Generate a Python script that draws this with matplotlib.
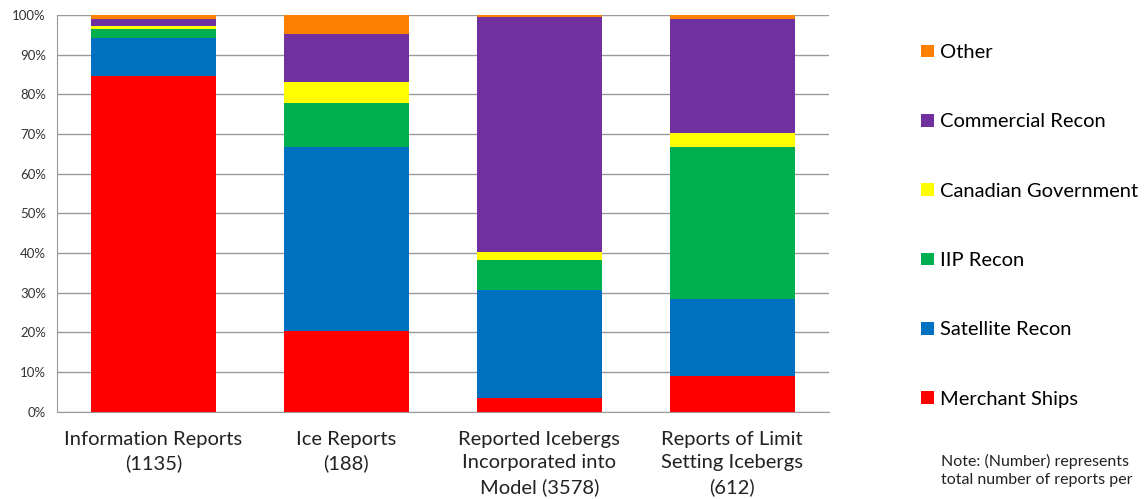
import matplotlib
matplotlib.use("Agg")
import matplotlib.pyplot as plt
from matplotlib.patches import Patch
import numpy as np

categories = ["Information Reports\n(1135)", "Ice Reports\n(188)",
              "Reported Icebergs\nIncorporated into\nModel (3578)",
              "Reports of Limit\nSetting Icebergs\n(612)"]
series_names = ["Merchant Ships", "Satellite Recon", "IIP Recon",
                "Canadian Government", "Commercial Recon", "Other"]
merchant_ships = [84.6, 20.3, 3.5, 9.1]
satellite_recon = [9.5, 46.3, 27.2, 19.3]
iip_recon = [2.3, 11.1, 7.5, 38.2]
canadian_gov = [0.9, 5.3, 2.0, 3.6]
commercial_recon = [1.8, 12.2, 59.4, 28.8]
other = [0.9, 4.8, 0.4, 1.0]
yticks = [0, 10, 20, 30, 40, 50, 60, 70, 80, 90, 100]

colors = ["#FF0000", "#0070C0", "#00B050", "#FFFF00", "#7030A0", "#FF8000"]
data = [merchant_ships, satellite_recon, iip_recon, canadian_gov, commercial_recon, other]

plt.rcParams['font.family'] = ['Lato', 'DejaVu Sans']

fig = plt.figure(figsize=(11.45, 4.99), dpi=100)
ax = fig.add_axes([0.0498, 0.175, 0.674, 0.795])

x = np.arange(len(categories))
bottom = np.zeros(len(categories))
for vals, c in zip(data, colors):
    vals = np.array(vals, dtype=float)
    ax.bar(x, vals, 0.65, bottom=bottom, color=c, zorder=3)
    bottom += vals

ax.set_xlim(-0.5, 3.5)
ax.set_ylim(0, 100)
ax.set_yticks(yticks)
ax.set_yticklabels([f"{t}%" for t in yticks], fontsize=9.5, color="#333333")
ax.set_xticks(x)
ax.set_xticklabels(categories, fontsize=14.5, color="#222222", linespacing=1.44)
ax.tick_params(axis='x', length=0, pad=14)
ax.tick_params(axis='y', length=0, pad=8)
ax.yaxis.grid(True, color="#999999", linewidth=1.0, zorder=0)
for s in ["top", "right"]:
    ax.spines[s].set_visible(False)
for s in ["left", "bottom"]:
    ax.spines[s].set_color("#999999")

handles = [Patch(facecolor=c, edgecolor='none') for c in colors[::-1]]
fig.legend(handles, series_names[::-1], loc="upper left",
           bbox_to_anchor=(0.796, 0.932), frameon=False, fontsize=14.5,
           labelspacing=2.6, handlelength=0.6, handleheight=0.6,
           handletextpad=0.3, borderpad=0)

fig.text(0.822, 0.057, "Note: (Number) represents\ntotal number of reports per",
         fontsize=11.5, color="#222222", va="center", ha="left", linespacing=1.3)

fig.savefig("out.png", dpi=100)
